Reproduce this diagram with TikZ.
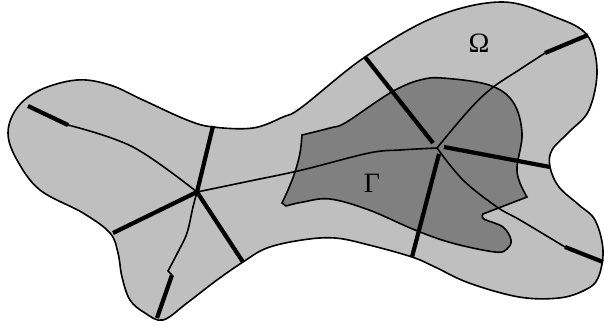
\documentclass[tikz,border=0pt]{standalone}
\usepackage{fontspec}
\setmainfont{Liberation Serif}
\usepackage{tikz}
\usetikzlibrary{calc}

\begin{document}
\begin{tikzpicture}[
    x=1pt, y=-1pt,
    outerdom/.style={draw, line width=1.6pt, fill=black!25},
    patch/.style={draw, line width=1.6pt, fill=black!50},
    cutline/.style={line width=1.6pt},
    cutbar/.style={line width=4.2pt},
    lbl/.style={font=\fontsize{28}{30}\selectfont}
]
\useasboundingbox (0,0) rectangle (604,326);

% Outer domain
\draw[outerdom] plot[smooth cycle, tension=0.6] coordinates {
  (77,80) (110,85) (143,100) (187,120) (213,127) (253,128) (283,117) (302,107)
  (365,57) (435,17) (502,2) (555,17) (587,35) (597,70) (589,110) (569,132)
  (552,150) (550,167) (559,187) (579,205) (595,220) (603,250) (598,278)
  (585,290) (559,298) (519,297) (469,283) (435,267) (412,257) (369,245)
  (335,238) (302,240) (267,248) (243,262) (217,280) (187,303) (163,320)
  (145,313) (130,300) (122,277) (118,253) (110,233) (83,213) (40,190)
  (17,160) (8,133) (17,108) (40,90)};

% Inner patch
\draw[patch] (302,135)
  -- plot[smooth, tension=0.6] coordinates {(302,135) (330,128) (345,123) (379,100)
       (399,88) (420,80) (442,78) (489,85) (513,102) (522,133) (517,167) (520,183) (527,197)}
  -- (483,214)
  -- plot[smooth, tension=0.6] coordinates {(483,214) (484,219) (503,227) (511,240) (507,249)
       (495,252) (452,243) (415,230) (369,210) (330,199) (303,202) (286,206)}
  -- plot[smooth, tension=0.6] coordinates {(282,203) (288,190) (295,172) (300,153) (302,135)}
  -- cycle;

% Hubs and end points
\coordinate (hubL) at (197,192);
\coordinate (hubR) at (437,148);
\coordinate (tL1) at (68,125);   \coordinate (eL1) at (28,106);
\coordinate (eL2) at (213,126);
\coordinate (eL3) at (113,233);
\coordinate (eL4) at (243,262);
\coordinate (tL5) at (172,275);  \coordinate (eL5) at (157,318);
\coordinate (sR1) at (433,143);  \coordinate (eR1) at (365,57);
\coordinate (tR2) at (545,53);   \coordinate (eR2) at (588,35);
\coordinate (sR3) at (444,147);  \coordinate (eR3) at (550,167);
\coordinate (sR4) at (439,154);  \coordinate (eR4) at (412,257);
\coordinate (tR5) at (565,247);  \coordinate (eR5) at (603,262);

% Thin cuts
\draw[cutline] plot[smooth, tension=0.6] coordinates {(hubL) (133,147) (tL1)};
\draw[cutline] plot[smooth, tension=0.6] coordinates {(hubL) (250,181) (302,170) (369,153) (400,150) (hubR)};
\draw[cutline] plot[smooth, tension=0.6] coordinates {(hubL) (193,207) (187,233) (178,252) (168,271)} -- (tL5);
\draw[cutline] plot[smooth, tension=0.6] coordinates {(hubR) (469,110) (492,88) (519,70) (tR2)};
\draw[cutline] plot[smooth, tension=0.6] coordinates {(hubR) (463,180) (497,207) (520,220) (tR5)};

% Thick cuts
\draw[cutbar] (tL1) -- (eL1);
\draw[cutbar] (hubL) -- (eL2);
\draw[cutbar] (hubL) -- (eL3);
\draw[cutbar] (hubL) -- (eL4);
\draw[cutbar] (tL5) -- (eL5);
\draw[cutbar] (sR1) -- (eR1);
\draw[cutbar] (tR2) -- (eR2);
\draw[cutbar] (sR3) -- (eR3);
\draw[cutbar] (sR4) -- (eR4);
\draw[cutbar] (tR5) -- (eR5);

\node[lbl] (omega) at (479,43) {Ω};
\node[lbl] (gamma) at (372,183) {Γ};
\end{tikzpicture}
\end{document}
